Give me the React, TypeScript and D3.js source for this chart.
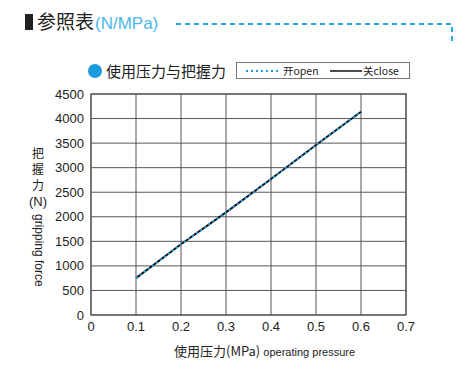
import React from "react";
import * as d3 from "d3";

const pressures = [0.1, 0.2, 0.3, 0.4, 0.5, 0.6];
const openForce = [750, 1440, 2090, 2770, 3460, 4140];
const closeForce = [750, 1440, 2090, 2770, 3460, 4140];
const xTicks = [0, 0.1, 0.2, 0.3, 0.4, 0.5, 0.6, 0.7];
const yTicks = [0, 500, 1000, 1500, 2000, 2500, 3000, 3500, 4000, 4500];

const W = 463, H = 369;
const L = 91, R = 406, T = 94, B = 315;
const BLUE = "#1a9be0";
const FONT = "Liberation Sans, Arial, sans-serif";
const CJK = "Noto Sans CJK SC, sans-serif";

export default function App() {
  const x = d3.scaleLinear().domain([0, 0.7]).range([L, R]);
  const y = d3.scaleLinear().domain([0, 4500]).range([B, T]);
  const line = d3.line<number>().x((_, i) => x(pressures[i])).y((d) => y(d));
  return (
    <svg width={W} height={H} style={{ position: "absolute", left: 0, top: 0, background: "#fff" }}>
      {/* header */}
      <rect x={25} y={14} width={8} height={16} fill="#222" />
      <text x={37} y={29} fontFamily={CJK} fontSize={19} fill="#222">参照表</text>
      <text x={95} y={29} fontFamily={FONT} fontSize={17} fill="#4cb8ea">(N/MPa)</text>
      <path d="M176,24 H452 V44" fill="none" stroke="#29a8e8" strokeWidth={2} strokeDasharray="5,4" />
      {/* legend */}
      <circle cx={95} cy={71} r={7} fill={BLUE} />
      <text x={106} y={77} fontFamily={CJK} fontSize={15} fill="#222">使用压力与把握力</text>
      <rect x={236.5} y={62.5} width={173} height={16} fill="#fff" stroke="#777" strokeWidth={1} />
      <line x1={246} x2={280} y1={71} y2={71} stroke={BLUE} strokeWidth={2} strokeDasharray="2,3" />
      <text x={283} y={75} fontFamily={CJK} fontSize={10.5} fill="#222">开open</text>
      <line x1={330} x2={362} y1={71} y2={71} stroke="#111" strokeWidth={1.5} />
      <text x={363} y={75} fontFamily={CJK} fontSize={10.5} fill="#222">关close</text>
      {/* grid */}
      {xTicks.map((t) => (
        <line key={"gx" + t} x1={x(t)} x2={x(t)} y1={T} y2={B} stroke="#555" strokeWidth={1} />
      ))}
      {yTicks.map((t) => (
        <line key={"gy" + t} x1={L} x2={R} y1={y(t)} y2={y(t)} stroke="#555" strokeWidth={1} />
      ))}
      <rect x={L} y={T} width={R - L} height={B - T} fill="none" stroke="#555" strokeWidth={1.2} />
      {/* ticks labels */}
      {yTicks.map((t) => (
        <text key={"ty" + t} x={84} y={y(t) + 4.5} textAnchor="end" fontFamily={FONT} fontSize={13} fill="#222">{t}</text>
      ))}
      {xTicks.map((t) => (
        <text key={"tx" + t} x={x(t)} y={331} textAnchor="middle" fontFamily={FONT} fontSize={13} fill="#222">{t === 0 ? "0" : String(t)}</text>
      ))}
      {/* data */}
      <path d={line(closeForce) || ""} fill="none" stroke="#111" strokeWidth={2} />
      <path d={line(openForce) || ""} fill="none" stroke="#22a8f0" strokeWidth={2} strokeDasharray="2,3" />
      {/* y title */}
      <text x={38} y={158} textAnchor="middle" fontFamily={CJK} fontSize={12} fill="#222">把</text>
      <text x={38} y={174} textAnchor="middle" fontFamily={CJK} fontSize={12} fill="#222">握</text>
      <text x={38} y={190} textAnchor="middle" fontFamily={CJK} fontSize={12} fill="#222">力</text>
      <text x={38} y={206} textAnchor="middle" fontFamily={FONT} fontSize={13} fill="#222">(N)</text>
      <text transform="translate(35,214) rotate(90)" fontFamily={FONT} fontSize={12} fill="#222">gripping force</text>
      {/* x title */}
      <text x={174} y={356} fontFamily={CJK} fontSize={13} fill="#222">
        使用压力(MPa)
        <tspan fontFamily={FONT} fontSize={11}> operating pressure</tspan>
      </text>
    </svg>
  );
}
